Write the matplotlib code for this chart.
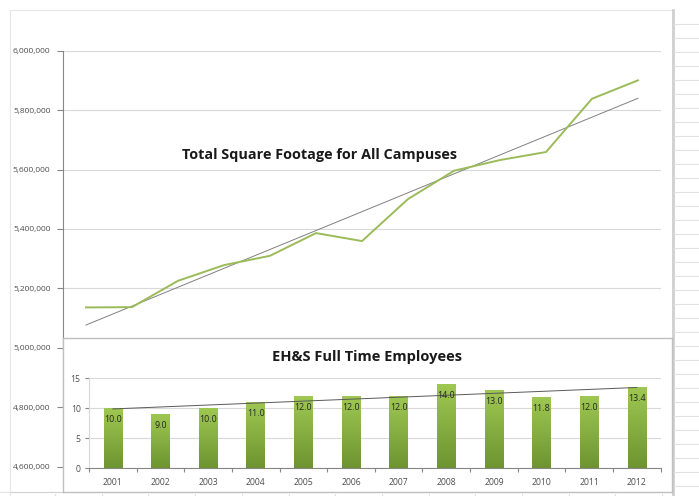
import matplotlib
matplotlib.use("Agg")
import matplotlib.pyplot as plt
import numpy as np
from matplotlib.colors import LinearSegmentedColormap
from matplotlib.lines import Line2D
from matplotlib.ticker import FuncFormatter

plt.rcParams["font.family"] = ["Open Sans", "DejaVu Sans"]

# total square footage, 13 points (years not labelled on the main chart)
sqft_values = [5136000, 5137000, 5225600, 5278400, 5309800, 5386200, 5359300,
               5500700, 5596000, 5632000, 5659000, 5838400, 5900300]
sqft_ticks = [4600000, 4800000, 5000000, 5200000, 5400000, 5600000, 5800000, 6000000]

# EH&S employees
years = ["2001", "2002", "2003", "2004", "2005", "2006", "2007",
         "2008", "2009", "2010", "2011", "2012"]
employees = [10.0, 9.0, 10.0, 11.0, 12.0, 12.0, 12.0, 14.0, 13.0, 11.8, 12.0, 13.4]
emp_ticks = [0, 5, 10, 15]

W, H = 699, 496


def rect(x0, y0, x1, y1):
    # pixel box (top-left origin) -> figure fraction [l, b, w, h]
    return [x0 / W, 1 - y1 / H, (x1 - x0) / W, (y1 - y0) / H]


def fline(xs, ys, **kw):
    fig.add_artist(Line2D([x / W for x in xs], [1 - y / H for y in ys], **kw))


fig = plt.figure(figsize=(W / 100, H / 100), dpi=100)
fig.patch.set_facecolor("white")

tick_col = "#4d4d4d"
grid_col = "#d9d9d9"
axis_col = "#868686"

# main chart
ax = fig.add_axes(rect(63, 50.7, 661, 466.7), zorder=1)
x = np.arange(len(sqft_values))
ax.plot(x, sqft_values, color="#9bbb59", lw=1.4, zorder=3, solid_joinstyle="miter")
coef = np.polyfit(x, sqft_values, 1)
ax.plot(x, np.polyval(coef, x), color="#808080", lw=0.7, zorder=2)
ax.set_xlim(-0.5, len(sqft_values) - 0.5)
ax.set_ylim(sqft_ticks[0], sqft_ticks[-1])
ax.set_yticks(sqft_ticks)
ax.yaxis.set_major_formatter(FuncFormatter(lambda v, p: f"{v:,.0f}"))
ax.set_xticks([])
ax.grid(axis="y", color=grid_col, lw=0.8)
ax.set_axisbelow(True)
for s in ["top", "right", "bottom"]:
    ax.spines[s].set_visible(False)
ax.spines["left"].set_color(axis_col)
ax.spines["left"].set_linewidth(0.8)
ax.tick_params(axis="y", length=4, width=0.8, color=axis_col, labelsize=6,
               labelcolor=tick_col, pad=5)
fig.text(319.5 / W, 1 - 155 / H, "Total Square Footage for All Campuses",
         ha="center", va="center", fontsize=10.4, fontweight="bold", color="#1a1a1a")

# inset chart box
box = fig.add_axes(rect(63, 337.5, 672, 492), zorder=2)
box.set_xticks([])
box.set_yticks([])
box.set_facecolor("white")
for s in box.spines.values():
    s.set_color("#bfbfbf")
    s.set_linewidth(1.0)
fig.text(367.5 / W, 1 - 356.7 / H, "EH&S Full Time Employees",
         ha="center", va="center", fontsize=10.5, fontweight="bold", color="#1a1a1a",
         zorder=5)

ax2 = fig.add_axes(rect(89, 378.3, 660.7, 468.3), zorder=3)
ax2.patch.set_alpha(0)
xb = np.arange(len(years))
bars = ax2.bar(xb, employees, width=0.39, color="none", edgecolor="none")
cmap = LinearSegmentedColormap.from_list("grn", ["#6d9430", "#9fc852"])
grad = np.linspace(1, 0, 256).reshape(-1, 1)
for b in bars:
    x0, w, h = b.get_x(), b.get_width(), b.get_height()
    ax2.imshow(grad, extent=[x0, x0 + w, 0, h], aspect="auto", cmap=cmap,
               origin="upper", zorder=2)
coef2 = np.polyfit(xb, employees, 1)
ax2.plot(xb, np.polyval(coef2, xb), color="#595959", lw=0.7, zorder=3)
for xi, v in zip(xb, employees):
    ax2.annotate(f"{v:.1f}", (xi, v), xytext=(0, -4.5), textcoords="offset points",
                 ha="center", va="top", fontsize=6.4, color="#262626", zorder=4)
ax2.set_xlim(-0.5, len(years) - 0.5)
ax2.set_ylim(emp_ticks[0], emp_ticks[-1])
ax2.set_yticks(emp_ticks)
ax2.set_xticks(xb)
ax2.set_xticklabels(years)
ax2.set_xticks(np.arange(-0.5, len(years)), minor=True)
ax2.tick_params(axis="x", which="major", length=0, labelsize=6.2, labelcolor=tick_col, pad=7)
ax2.tick_params(axis="x", which="minor", length=3, width=0.8, color=axis_col)
ax2.tick_params(axis="y", length=3, width=0.8, color=axis_col, labelsize=6.2,
                labelcolor=tick_col, pad=3)
ax2.grid(axis="y", color=grid_col, lw=0.8)
ax2.set_axisbelow(True)
for s in ["top", "right"]:
    ax2.spines[s].set_visible(False)
ax2.spines["left"].set_color(grid_col)
ax2.spines["bottom"].set_color(axis_col)
ax2.spines["left"].set_linewidth(0.8)
ax2.spines["bottom"].set_linewidth(0.8)

# chart frame and spreadsheet cells around it
cell = "#e2e2e2"
fline([10, 672], [10, 10], color="#e6e6e6", lw=0.8)
fline([10, 10], [10, 496], color="#e6e6e6", lw=0.8)
fline([10, 63], [491.5, 491.5], color="#d0d0d0", lw=0.8)
fline([672.5, 672.5], [10, 496], color="#cfcfcf", lw=2.0)
for k in range(1, 36):
    yy = 10.3 + 14 * k
    if yy > 496:
        break
    fline([674, 699], [yy, yy], color=cell, lw=0.8)
for k in range(14):
    xx = 55 + 46.7 * k
    fline([xx, xx], [493.5, 496], color=cell, lw=0.8)
fline([0, 10], [491.5, 491.5], color=cell, lw=0.8)

fig.savefig("out.png", dpi=100)
